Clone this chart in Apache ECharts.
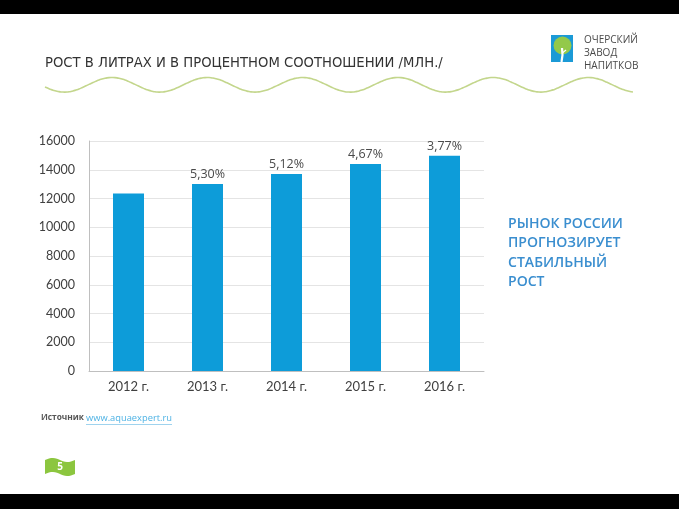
<!DOCTYPE html>
<html><head><meta charset="utf-8">
<script src="https://cdn.jsdelivr.net/npm/echarts@6/dist/echarts.min.js"></script>
<style>html,body{margin:0;padding:0;background:#fff}#c{width:679px;height:509px}</style>
</head><body><div id="c"></div>
<script>
const categories = ['2012 г.', '2013 г.', '2014 г.', '2015 г.', '2016 г.'];
const volumes = [12350, 13010, 13700, 14400, 14980];
const growthLabels = ['', '5,30%', '5,12%', '4,67%', '3,77%'];
const titleText = 'РОСТ В ЛИТРАХ И В ПРОЦЕНТНОМ СООТНОШЕНИИ /МЛН./';
const sideLines = ['РЫНОК РОССИИ', 'ПРОГНОЗИРУЕТ', 'СТАБИЛЬНЫЙ', 'РОСТ'];
const logoLines = ['ОЧЕРСКИЙ', 'ЗАВОД', 'НАПИТКОВ'];
const sourceLabel = 'Источник';
const sourceLink = 'www.aquaexpert.ru';

const cv = document.createElement('canvas').getContext('2d');
function fitSize(text, font, weight, target) {
  cv.font = weight + ' 100px ' + font;
  return 100 * target / cv.measureText(text).width;
}
const titleFont = '"DejaVu Sans Condensed", "DejaVu Sans", sans-serif';
const titleSize = fitSize(titleText, titleFont, 'normal', 398);
const sideFont = '"Open Sans", sans-serif';
const sideSize = fitSize(sideLines[0], sideFont, '600', 115);
const srcFont = '"Open Sans", sans-serif';
const srcSize1 = Math.min(11, fitSize(sourceLabel, srcFont, 'bold', 43));
const srcSize2 = Math.min(11.5, fitSize(sourceLink, srcFont, 'normal', 86));

// decorative wave
const wavePts = [];
for (let x = 45; x <= 633; x += 2) {
  wavePts.push([x, 84.8 - 7.3 * Math.cos(2 * Math.PI * (x - 112) / 95.3)]);
}
// decorative page flag
const flagPts = [];
for (let i = 0; i <= 15; i++) { const x = 45 + i * 2; flagPts.push([x, 460 - 2 * Math.sin(Math.PI * 2 * i / 15)]); }
for (let i = 15; i >= 0; i--) { const x = 45 + i * 2; flagPts.push([x, 474 - 2 * Math.sin(Math.PI * 2 * i / 15)]); }

const graphics = [
  {type:'rect', shape:{x:0,y:0,width:679,height:14}, style:{fill:'#000'}, silent:true},
  {type:'rect', shape:{x:0,y:494,width:679,height:15}, style:{fill:'#000'}, silent:true},
  {type:'text', x:45, y:63, style:{text:titleText, font:'normal '+titleSize.toFixed(2)+'px '+titleFont, fill:'#333', verticalAlign:'middle'}},
  {type:'polyline', shape:{points:wavePts, smooth:0.3}, style:{stroke:'#c3d68c', lineWidth:1.6, fill:null}},
  // logo
  {type:'rect', shape:{x:551,y:35,width:22,height:27}, style:{fill:'#1b9ad6'}},
  {type:'circle', shape:{cx:562.5,cy:45.5,r:9}, style:{fill:'#93c94a'}},
  {type:'polyline', shape:{points:[[562,48],[562.5,55],[561.5,62]]}, style:{stroke:'#fff', lineWidth:2.2, fill:null}},
  {type:'polyline', shape:{points:[[562.3,53],[566,50]]}, style:{stroke:'#fff', lineWidth:1.2, fill:null}},
  {type:'text', x:584, y:34, style:{text:logoLines.join('\n'), font:'normal 10px "Open Sans", sans-serif', fill:'#4a4a4a', lineHeight:12.8}},
  // side text
  {type:'text', x:508, y:214, style:{text:sideLines.join('\n'), font:'600 '+sideSize.toFixed(2)+'px '+sideFont, fill:'#3a8ecf', lineHeight:19.5}},
  // source
  {type:'text', x:41, y:418, style:{text:sourceLabel, font:'bold '+srcSize1.toFixed(2)+'px '+srcFont, fill:'#555', verticalAlign:'middle'}},
  {type:'text', x:86, y:418, style:{text:sourceLink, font:'normal '+srcSize2.toFixed(2)+'px '+srcFont, fill:'#4db2e4', verticalAlign:'middle'}},
  {type:'line', shape:{x1:86,y1:424.5,x2:172,y2:424.5}, style:{stroke:'#9fd3ee', lineWidth:1}},
  // page flag
  {type:'polygon', shape:{points:flagPts, smooth:0}, style:{fill:'#8cc63f'}},
  {type:'text', x:60, y:467, style:{text:'5', font:'bold 10px "Open Sans", sans-serif', fill:'#fff', align:'center', verticalAlign:'middle'}}
];

const chart = echarts.init(document.getElementById('c'));
chart.setOption({
  animation:false,
  backgroundColor:'#fff',
  grid:{left:89, right:195, top:141, bottom:138, containLabel:false},
  xAxis:{
    type:'category', data:categories,
    axisLine:{show:true, lineStyle:{color:'#bfbfbf'}},
    axisTick:{show:false},
    axisLabel:{color:'#404040', fontSize:13, fontFamily:'Lato, "Open Sans", sans-serif', margin:9}
  },
  yAxis:{
    type:'value', min:0, max:16000, interval:2000,
    axisLine:{show:true, lineStyle:{color:'#bfbfbf'}},
    axisTick:{show:false},
    splitLine:{lineStyle:{color:'#e4e4e4'}},
    axisLabel:{color:'#404040', fontSize:12.5, fontFamily:'Lato, "Open Sans", sans-serif', margin:14,
      formatter:v => String(v)}
  },
  series:[{
    type:'bar', data:volumes, barWidth:31,
    itemStyle:{color:'#0d9cd9'},
    label:{show:true, position:'top', distance:3, color:'#4a4a4a', fontSize:12.5,
      fontFamily:'"Open Sans", sans-serif',
      formatter:p => growthLabels[p.dataIndex]}
  }],
  graphic:graphics
});
</script></body></html>
